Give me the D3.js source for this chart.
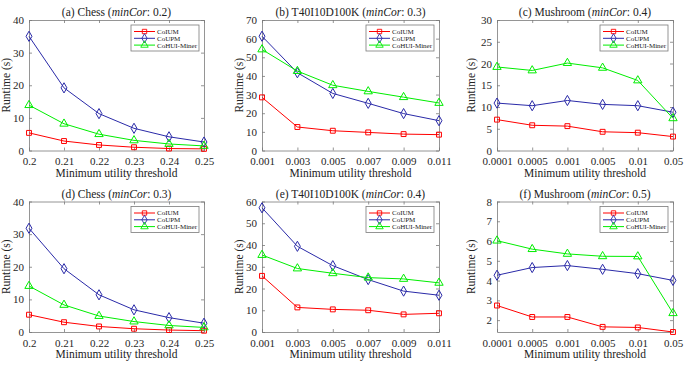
<!DOCTYPE html>
<html><head><meta charset="utf-8">
<script src="https://cdn.jsdelivr.net/npm/d3@7"></script>
<style>
body{margin:0;background:#fff;}
svg{display:block;}
</style></head>
<body><svg id="c" width="698" height="366"></svg>
<script>
const seriesNames = ["CoIUM", "CoUPM", "CoHUI-Miner"];
const chessX = ["0.2", "0.21", "0.22", "0.23", "0.24", "0.25"];
const t40X = ["0.001", "0.003", "0.005", "0.007", "0.009", "0.011"];
const mushX = ["0.0001", "0.0005", "0.001", "0.005", "0.01", "0.05"];

const titlesPrefix = ["(a) Chess (", "(b) T40I10D100K (", "(c) Mushroom (", "(d) Chess (", "(e) T40I10D100K (", "(f) Mushroom ("];
const minCor = ["0.2", "0.3", "0.4", "0.3", "0.4", "0.5"];

// panel (a) Chess minCor 0.2
const aCoIUM = [5.4, 2.9, 1.7, 1.0, 0.6, 0.5];
const aCoUPM = [35.0, 19.2, 11.3, 6.8, 4.2, 2.6];
const aCoHUI = [13.9, 8.2, 5.0, 3.1, 2.0, 1.4];
// panel (b) T40I10D100K minCor 0.3
const bCoIUM = [28.5, 12.6, 10.6, 9.7, 8.8, 8.5];
const bCoUPM = [61.3, 41.7, 30.6, 25.3, 19.8, 16.0];
const bCoHUI = [54.2, 42.6, 35.0, 31.7, 28.6, 25.5];
// panel (c) Mushroom minCor 0.4
const cCoIUM = [7.1, 5.8, 5.6, 4.3, 4.1, 3.2];
const cCoUPM = [10.9, 10.3, 11.5, 10.6, 10.3, 8.8];
const cCoHUI = [19.2, 18.4, 20.1, 19.0, 16.1, 7.4];
// panel (d) Chess minCor 0.3
const dCoIUM = [5.3, 3.0, 1.7, 1.0, 0.6, 0.4];
const dCoUPM = [31.8, 19.4, 11.4, 6.8, 4.4, 2.7];
const dCoHUI = [14.1, 8.3, 4.9, 3.2, 2.0, 1.4];
// panel (e) T40I10D100K minCor 0.4
const eCoIUM = [25.8, 11.3, 10.4, 10.0, 8.1, 8.6];
const eCoUPM = [57.1, 39.4, 30.5, 24.1, 18.8, 16.9];
const eCoHUI = [35.4, 29.2, 27.0, 25.0, 24.4, 22.6];
// panel (f) Mushroom minCor 0.5
const fCoIUM = [2.74, 2.16, 2.16, 1.66, 1.63, 1.4];
const fCoUPM = [4.27, 4.66, 4.76, 4.57, 4.35, 4.01];
const fCoHUI = [6.02, 5.59, 5.35, 5.23, 5.22, 2.35];

const yDomains = [[0, 40], [0, 70], [0, 30], [0, 40], [0, 60], [1.4, 8]];
const yTicks = [[0,10,20,30,40],[0,10,20,30,40,50,60,70],[0,5,10,15,20,25,30],[0,10,20,30,40],[0,10,20,30,40,50,60],[2,3,4,5,6,7,8]];

const panels = [
  {cats: chessX, data: [aCoIUM, aCoUPM, aCoHUI]},
  {cats: t40X, data: [bCoIUM, bCoUPM, bCoHUI]},
  {cats: mushX, data: [cCoIUM, cCoUPM, cCoHUI]},
  {cats: chessX, data: [dCoIUM, dCoUPM, dCoHUI]},
  {cats: t40X, data: [eCoIUM, eCoUPM, eCoHUI]},
  {cats: mushX, data: [fCoIUM, fCoUPM, fCoHUI]},
];

const colors = ["#ff0000", "#2a2aa8", "#00ee00"];
const symbols = [d3.symbolSquare, d3.symbolDiamond, d3.symbolTriangle];
const symSizes = [24, 30, 30];

const cols = [[29, 204], [262, 439], [497, 673]];
const rows = [[20, 150.5], [201.5, 332]];
const axisColor = "#7a7a7a";
const FONT = "'Liberation Serif', 'Times New Roman', serif";

const svg = d3.select("#c");

panels.forEach((p, i) => {
  const [x0, x1] = cols[i % 3];
  const [y0, y1] = rows[Math.floor(i / 3)];
  const x = d3.scalePoint().domain(p.cats).range([x0, x1]).padding(0);
  const y = d3.scaleLinear().domain(yDomains[i]).range([y1, y0]);
  const g = svg.append("g");

  const styleAxis = sel => {
    sel.attr("font-family", null).attr("font-size", null);
    sel.selectAll("path,line").attr("stroke", axisColor).attr("stroke-width", 0.8);
    sel.selectAll("text").attr("fill", "#262626")
      .style("font-size", "11px").style("font-family", FONT);
  };

  g.append("g").attr("transform", `translate(0,${y1})`)
    .call(d3.axisBottom(x).tickSizeInner(-3).tickSizeOuter(0).tickPadding(7))
    .call(styleAxis);
  g.append("g").attr("transform", `translate(0,${y0})`)
    .call(d3.axisTop(x).tickSizeInner(-3).tickSizeOuter(0).tickFormat(""))
    .call(styleAxis);
  g.append("g").attr("transform", `translate(${x0},0)`)
    .call(d3.axisLeft(y).tickValues(yTicks[i]).tickSizeInner(-3).tickSizeOuter(0).tickPadding(5).tickFormat(d3.format("d")))
    .call(styleAxis);
  g.append("g").attr("transform", `translate(${x1},0)`)
    .call(d3.axisRight(y).tickValues(yTicks[i]).tickSizeInner(-3).tickSizeOuter(0).tickFormat(""))
    .call(styleAxis);

  // title
  const t = g.append("text").attr("x", (x0 + x1) / 2).attr("y", y0 - 4)
    .attr("text-anchor", "middle").attr("fill", "#222")
    .style("font-size", "11.5px").style("font-family", FONT);
  t.append("tspan").text(titlesPrefix[i]);
  t.append("tspan").style("font-style", "italic").text("minCor");
  t.append("tspan").text(": " + minCor[i] + ")");

  // x label
  g.append("text").attr("x", (x0 + x1) / 2).attr("y", y1 + 26)
    .attr("text-anchor", "middle").attr("fill", "#222")
    .style("font-size", "11.5px").style("font-family", FONT)
    .text("Minimum utility threshold");
  // y label
  const ylx = x0 - 19 - (i % 3 === 2 ? 3 : 0);
  g.append("text").attr("transform", `translate(${ylx},${(y0 + y1) / 2}) rotate(-90)`)
    .attr("text-anchor", "middle").attr("fill", "#222")
    .style("font-size", "11.5px").style("font-family", FONT)
    .text("Runtime (s)");

  const line = d3.line().x((d, k) => x(p.cats[k])).y(d => y(d));
  p.data.forEach((vals, s) => {
    g.append("path").datum(vals).attr("d", line).attr("fill", "none")
      .attr("stroke", colors[s]).attr("stroke-width", 1);
    g.selectAll(null).data(vals).enter().append("path")
      .attr("transform", (d, k) => `translate(${x(p.cats[k])},${y(d)})`)
      .attr("d", d3.symbol().type(symbols[s]).size(symSizes[s]))
      .attr("fill", "none").attr("stroke", colors[s]).attr("stroke-width", 1);
  });

  // legend
  const lw = 68, lh = 26;
  const lx = x1 - 5 - lw, ly = y0 + 5;
  const lg = g.append("g").attr("transform", `translate(${lx},${ly})`);
  lg.append("rect").attr("width", lw).attr("height", lh).attr("fill", "#fff")
    .attr("stroke", axisColor).attr("stroke-width", 0.8);
  seriesNames.forEach((name, s) => {
    const yy = 6.5 + s * 6.8;
    lg.append("line").attr("x1", 3).attr("x2", 24).attr("y1", yy).attr("y2", yy)
      .attr("stroke", colors[s]).attr("stroke-width", 1);
    lg.append("path").attr("transform", `translate(13.5,${yy})`)
      .attr("d", d3.symbol().type(symbols[s]).size(symSizes[s] * 0.8))
      .attr("fill", "none").attr("stroke", colors[s]).attr("stroke-width", 0.9);
    lg.append("text").attr("x", 26).attr("y", yy + 2.4).attr("fill", "#222")
      .style("font-size", "7px").style("font-family", FONT).text(name);
  });
});
</script></body></html>
